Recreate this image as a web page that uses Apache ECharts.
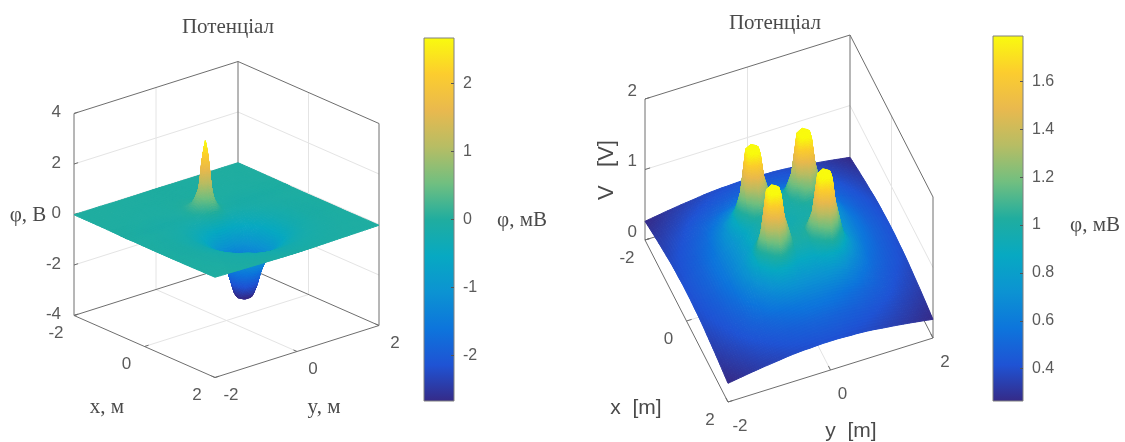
<!DOCTYPE html>
<html><head><meta charset="utf-8">
<style>html,body{margin:0;padding:0;background:#fff}#c{width:1125px;height:442px}</style>
<script src="https://cdn.jsdelivr.net/npm/echarts@6/dist/echarts.min.js"></script>
</head><body><div id="c"></div>
<script>
// ---------- data ----------
const titleText = 'Потенціал';
const colorbarUnit = 'φ, мВ';

// left chart
const leftXLines = [-2,-1.4,-1,-0.85,-0.7,-0.65,-0.6,-0.55,-0.5,-0.35,-0.1,0.05,0.2,0.3,0.4,0.5,0.6,0.7,0.8,0.95,1.2,1.5,2];
const leftYHalfLines = [0,0.05,0.1,0.15,0.25,0.35,0.5,0.7,1,1.4,2];
const leftZ = [
[-0.02,-0.02,-0.02,-0.02,-0.02,-0.02,-0.02,-0.02,-0.02,-0.01,-0.01],
[-0.03,-0.03,-0.03,-0.03,-0.03,-0.035,-0.035,-0.04,-0.035,-0.03,-0.015],
[0.04,0.04,0.03,0.02,0,-0.02,-0.045,-0.05,-0.055,-0.045,-0.02],
[0.25,0.24,0.21,0.16,0.07,-0.01,-0.05,-0.065,-0.075,-0.055,-0.025],
[1.1,0.95,0.7,0.43,0.17,0.02,-0.075,-0.09,-0.1,-0.07,-0.03],
[2.33,1.83,0.93,0.53,0.18,0.01,-0.08,-0.09,-0.105,-0.07,-0.03],
[2.75,2.3,1.06,0.56,0.17,0,-0.08,-0.095,-0.11,-0.075,-0.03],
[2.28,1.78,0.88,0.48,0.13,-0.04,-0.1,-0.11,-0.115,-0.08,-0.035],
[1.0,0.85,0.6,0.33,0.07,-0.08,-0.125,-0.12,-0.11,-0.08,-0.04],
[-0.02,-0.03,-0.05,-0.1,-0.17,-0.22,-0.21,-0.165,-0.11,-0.07,-0.035],
[-0.68,-0.68,-0.66,-0.65,-0.6,-0.53,-0.41,-0.3,-0.155,-0.08,-0.04],
[-1.11,-1.1,-1.07,-1.04,-0.93,-0.8,-0.59,-0.39,-0.19,-0.085,-0.04],
[-1.75,-1.72,-1.66,-1.55,-1.33,-1.12,-0.8,-0.47,-0.23,-0.09,-0.04],
[-2.5,-2.46,-2.35,-2.2,-1.62,-1.28,-0.9,-0.5,-0.24,-0.1,-0.04],
[-2.75,-2.75,-2.73,-2.6,-2.0,-1.4,-0.97,-0.54,-0.25,-0.1,-0.04],
[-2.75,-2.75,-2.75,-2.72,-2.2,-1.45,-1.0,-0.55,-0.25,-0.1,-0.04],
[-2.75,-2.75,-2.73,-2.6,-2.0,-1.4,-0.97,-0.54,-0.25,-0.1,-0.04],
[-2.5,-2.46,-2.35,-2.2,-1.62,-1.28,-0.9,-0.5,-0.24,-0.1,-0.04],
[-1.75,-1.72,-1.66,-1.55,-1.33,-1.12,-0.8,-0.47,-0.23,-0.09,-0.04],
[-1.15,-1.14,-1.1,-1.07,-0.96,-0.82,-0.6,-0.4,-0.19,-0.085,-0.04],
[-0.55,-0.55,-0.54,-0.53,-0.49,-0.44,-0.34,-0.25,-0.15,-0.08,-0.04],
[-0.25,-0.25,-0.25,-0.24,-0.23,-0.22,-0.19,-0.16,-0.11,-0.07,-0.035],
[-0.08,-0.08,-0.08,-0.08,-0.08,-0.08,-0.075,-0.07,-0.06,-0.05,-0.03]
];
const leftZTicks = [-4,-2,0,2,4];
const leftFloorTicks = [-2,0,2];
const leftBarTicks = [-2,-1,0,1,2];
const leftBarRange = [-2.67,2.67];

// right chart (one quadrant of the four-peak surface, |x| by |y|)
const rightHalfLines = [0,0.15,0.3,0.4,0.5,0.6,0.7,0.85,1,1.3,1.6,2];
const rightZQuadrant = [
[0.95,0.97,0.98,0.99,0.99,0.97,0.92,0.84,0.74,0.60,0.50,0.41],
[0.97,0.98,1.0,1.02,1.03,0.98,0.92,0.82,0.74,0.60,0.495,0.41],
[0.98,1.0,1.07,1.27,1.40,1.24,1.05,0.86,0.75,0.59,0.49,0.405],
[0.99,1.02,1.27,1.78,1.82,1.78,1.21,0.89,0.75,0.58,0.485,0.40],
[0.99,1.03,1.40,1.82,1.83,1.82,1.38,0.90,0.74,0.57,0.48,0.40],
[0.97,0.98,1.24,1.78,1.82,1.78,1.18,0.86,0.72,0.555,0.47,0.395],
[0.92,0.92,1.05,1.21,1.38,1.18,0.98,0.80,0.69,0.54,0.465,0.39],
[0.84,0.82,0.86,0.89,0.90,0.86,0.80,0.70,0.64,0.52,0.45,0.38],
[0.74,0.74,0.75,0.75,0.74,0.72,0.69,0.64,0.585,0.495,0.435,0.365],
[0.60,0.60,0.59,0.58,0.57,0.555,0.54,0.52,0.495,0.455,0.40,0.34],
[0.50,0.495,0.49,0.485,0.48,0.47,0.465,0.45,0.435,0.40,0.36,0.31],
[0.41,0.41,0.405,0.40,0.40,0.395,0.39,0.38,0.365,0.34,0.31,0.265]
];
const rightZTicks = [0,1,2];
const rightFloorTicks = [-2,0,2];
const rightBarTicks = [0.4,0.6,0.8,1,1.2,1.4,1.6];
const rightBarRange = [0.265,1.79];

// ---------- colours (parula) ----------
const parulaStops = ['#352a87','#1f53d4','#0d75dc','#0c93d2','#07a9c2','#20ad9f','#71bf80','#b7bd64','#e9b94e','#fccd2e','#f9fb0e'];
const parulaRgb = parulaStops.map(h => [1,3,5].map(k => parseInt(h.substr(k,2),16)));
function parula(t){
  t = Math.max(0,Math.min(1,t));
  const f = t*(parulaRgb.length-1), i = Math.min(parulaRgb.length-2,Math.floor(f)), a = f-i;
  const c = [0,1,2].map(k => Math.round(parulaRgb[i][k]*(1-a)+parulaRgb[i+1][k]*a));
  return 'rgb('+c.join(',')+')';
}
const barGradient = {type:'linear',x:0,y:0,x2:0,y2:1,
  colorStops: parulaStops.map((c,i)=>({offset:1-i/(parulaStops.length-1),color:c})).reverse()};

// ---------- surfaces and views ----------
const mirrorLines = h => h.slice(1).reverse().map(v=>-v).concat(h);
const leftYLines = mirrorLines(leftYHalfLines);
const leftFull = leftZ.map(row => row.slice(1).reverse().concat(row));
const rightLines = mirrorLines(rightHalfLines);
const rightRows = rightZQuadrant.map(row => row.slice(1).reverse().concat(row));
const rightFull = rightRows.slice(1).reverse().concat(rightRows);

const leftView = {o:[226.5,219.5], ex:[35.25,15.5], ey:[41,-13], ez:[0,-25.25], xr:[-2,2], yr:[-2,2], zr:[-4,4]};
const rightView = {o:[789,289], ex:[20.75,40.5], ey:[51.25,-16], ez:[0,-70.5], xr:[-2,2], yr:[-2,2], zr:[0,2]};
const proj = (v,x,y,z) => [v.o[0]+v.ex[0]*x+v.ey[0]*y+v.ez[0]*z, v.o[1]+v.ex[1]*x+v.ey[1]*y+v.ez[1]*z];

function surfaceSeries(view,xs,ys,Z,range){
  const cells = [];
  for(let i=0;i<xs.length-1;i++) for(let j=ys.length-2;j>=0;j--) cells.push([i,j]);
  return {type:'custom',xAxisIndex:0,yAxisIndex:0,silent:true,clip:false,animation:false,progressive:0,
    data:cells,
    renderItem(params,api){
      const i=api.value(0), j=api.value(1);
      const x0=xs[i],x1=xs[i+1],y0=ys[j],y1=ys[j+1];
      const z00=Z[i][j],z10=Z[i+1][j],z01=Z[i][j+1],z11=Z[i+1][j+1];
      const P=(a,b)=>{
        const z=(z00*(1-a)+z10*a)*(1-b)+(z01*(1-a)+z11*a)*b;
        return {p:api.coord(proj(view,x0+(x1-x0)*a,y0+(y1-y0)*b,z)),z};
      };
      const c=[P(0,0).p,P(1,0).p,P(1,1).p,P(0,1).p];
      const L=(u,w)=>Math.hypot(u[0]-w[0],u[1]-w[1]);
      const n=Math.min(16,Math.max(1,Math.ceil(Math.max(L(c[0],c[1]),L(c[1],c[2]),L(c[2],c[3]),L(c[3],c[0]))/3)));
      const kids=[];
      for(let a=0;a<n;a++) for(let b=n-1;b>=0;b--){
        const A=a/n,A2=(a+1)/n,B=b/n,B2=(b+1)/n;
        const m=P((A+A2)/2,(B+B2)/2);
        const col=parula((m.z-range[0])/(range[1]-range[0]));
        kids.push({type:'polygon',shape:{points:[P(A,B).p,P(A2,B).p,P(A2,B2).p,P(A,B2).p]},
          style:{fill:col,stroke:col,lineWidth:1}});
      }
      return {type:'group',children:kids};
    }};
}

function boxSeries(view,zTicks,floorTicks){
  const [xa,xb]=view.xr,[ya,yb]=view.yr,[za,zb]=view.zr;
  const seg=[];
  const grid='#e4e4e4', edge='#6e6e6e';
  zTicks.filter(z=>z>za&&z<zb).forEach(z=>{
    seg.push([[xa,ya,z],[xa,yb,z],grid],[[xa,yb,z],[xb,yb,z],grid]);
  });
  floorTicks.filter(t=>t>xa&&t<xb).forEach(t=>{
    seg.push([[xa,t,za],[xa,t,zb],grid],[[t,yb,za],[t,yb,zb],grid]);
    seg.push([[t,ya,za],[t,yb,za],grid],[[xa,t,za],[xb,t,za],grid]);
  });
  seg.push([[xa,ya,za],[xa,ya,zb],edge],[[xb,yb,za],[xb,yb,zb],edge],[[xa,yb,za],[xa,yb,zb],edge]);
  seg.push([[xa,ya,zb],[xa,yb,zb],edge],[[xa,yb,zb],[xb,yb,zb],edge]);
  seg.push([[xa,ya,za],[xb,ya,za],edge],[[xb,ya,za],[xb,yb,za],edge],[[xa,ya,za],[xa,yb,za],edge],[[xa,yb,za],[xb,yb,za],edge]);
  floorTicks.forEach(t=>{
    seg.push([[t,ya,za],[t,ya+0.1,za],edge],[[xb,t,za],[xb-0.1,t,za],edge]);
  });
  zTicks.forEach(z=>seg.push([[xa,ya,z],[xa,ya+0.1,z],edge]));
  return {type:'custom',xAxisIndex:0,yAxisIndex:0,silent:true,clip:false,animation:false,
    data:seg.map((_,i)=>[i]),
    renderItem(params,api){
      const s=seg[params.dataIndex];
      const a=api.coord(proj(view,...s[0])),b=api.coord(proj(view,...s[1]));
      return {type:'line',shape:{x1:a[0],y1:a[1],x2:b[0],y2:b[1]},style:{stroke:s[2],lineWidth:1}};
    }};
}

const tickFont='"Liberation Sans",sans-serif';
function tickSeries(view,zTicks,floorTicks,off){
  const [xa,xb]=view.xr,[ya]=view.yr;
  const items=[];
  const za=view.zr[0];
  floorTicks.forEach(t=>{
    items.push({t:String(t),p:[t,ya,za],o:off.x,a:'center'});
    items.push({t:String(t),p:[xb,t,za],o:off.y,a:'center'});
  });
  zTicks.forEach(z=>items.push({t:String(z),p:[xa,ya,z],o:off.z,a:'right'}));
  return {type:'custom',xAxisIndex:0,yAxisIndex:0,silent:true,clip:false,animation:false,
    data:items.map((_,i)=>[i]),
    renderItem(params,api){
      const it=items[params.dataIndex];
      const c=api.coord(proj(view,...it.p));
      return {type:'text',x:c[0]+it.o[0],y:c[1]+it.o[1],
        style:{text:it.t,fontSize:off.size,fontFamily:tickFont,fill:'#5a5a5a',align:it.a,verticalAlign:'middle'}};
    }};
}

function barSeries(gridIdx,range){
  return {type:'custom',xAxisIndex:gridIdx,yAxisIndex:gridIdx,silent:true,clip:false,animation:false,
    data:[[0,1,range[0],range[1]]],
    renderItem(params,api){
      const a=api.coord([api.value(0),api.value(3)]),b=api.coord([api.value(1),api.value(2)]);
      return {type:'rect',shape:{x:a[0],y:a[1],width:b[0]-a[0],height:b[1]-a[1]},
        style:{fill:barGradient,stroke:'#808080',lineWidth:1}};
    }};
}
const barYAxis=(gridIdx,range,ticks)=>({type:'value',gridIndex:gridIdx,position:'right',min:range[0],max:range[1],scale:true,z:10,
  axisLine:{show:false,onZero:false},splitLine:{show:false},
  axisTick:{show:true,inside:true,length:3,lineStyle:{color:'#555'},customValues:ticks},
  axisLabel:{show:true,margin:9,color:'#5a5a5a',fontSize:16,fontFamily:tickFont,customValues:ticks}});
const barXAxis=(gridIdx)=>({type:'value',gridIndex:gridIdx,min:0,max:1,show:false});

const serif='"Liberation Serif",serif';
const txt=(text,x,y,opt)=>({type:'text',x,y,silent:true,style:Object.assign({text,fontFamily:serif,fontSize:21,fill:'#4a4a4a',align:'center',verticalAlign:'middle'},opt||{})});

const option={
  animation:false,
  backgroundColor:'#ffffff',
  grid:[
    {left:0,top:0,width:1125,height:442,containLabel:false},
    {left:424,top:38,width:30,height:363},
    {left:993,top:36,width:30,height:365}
  ],
  xAxis:[{type:'value',gridIndex:0,min:0,max:1125,show:false},barXAxis(1),barXAxis(2)],
  yAxis:[{type:'value',gridIndex:0,min:0,max:442,inverse:true,show:false},
    barYAxis(1,leftBarRange,leftBarTicks),barYAxis(2,rightBarRange,rightBarTicks)],
  series:[
    boxSeries(leftView,leftZTicks,leftFloorTicks),
    surfaceSeries(leftView,leftXLines,leftYLines,leftFull,leftBarRange),
    tickSeries(leftView,leftZTicks,leftFloorTicks,{x:[-18,18],y:[16,18],z:[-13,-1],size:17}),
    boxSeries(rightView,rightZTicks,rightFloorTicks),
    surfaceSeries(rightView,rightLines,rightLines,rightFull,rightBarRange),
    tickSeries(rightView,rightZTicks,rightFloorTicks,{x:[-18,18],y:[12,24],z:[-8,-8],size:17}),
    barSeries(1,leftBarRange),
    barSeries(2,rightBarRange)
  ],
  graphic:{elements:[
    txt(titleText,228,27),
    txt(titleText,775,23),
    txt('φ, В',28,215),
    txt('x, м',107,407),
    txt('y, м',324,407),
    txt(colorbarUnit,522,220),
    txt(colorbarUnit,1095,225),
    Object.assign(txt('V   [V]',607,170,{fontFamily:tickFont,fontSize:22}),{rotation:Math.PI/2}),
    txt('x  [m]',636,408,{fontFamily:tickFont,fontSize:21}),
    txt('y  [m]',851,431,{fontFamily:tickFont,fontSize:21})
  ]}
};
const chart=echarts.init(document.getElementById('c'),null,{renderer:'canvas'});
chart.setOption(option);
</script></body></html>
